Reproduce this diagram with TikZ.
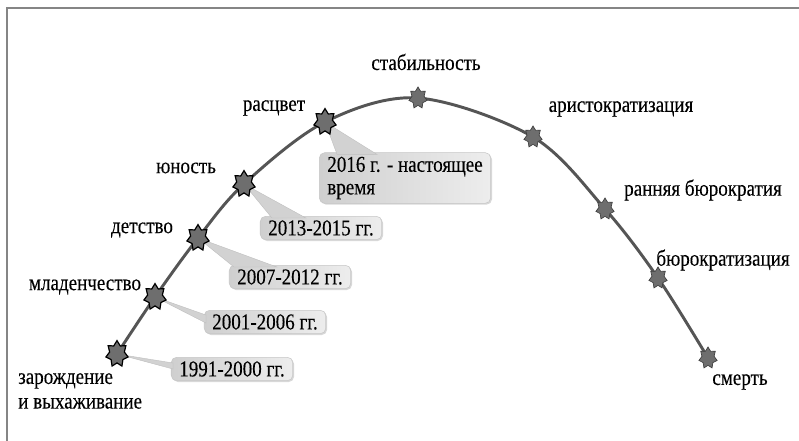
\documentclass[tikz,border=0pt]{standalone}
\usepackage{fontspec}
\setmainfont{Liberation Serif}[FakeStretch=0.84,FakeBold=0.2]
\usetikzlibrary{shapes.geometric,shadows,calc}
\definecolor{curvecol}{HTML}{555555}
\definecolor{framecol}{HTML}{858585}
\definecolor{starfill}{HTML}{6E6E6E}
\definecolor{boxdark}{HTML}{CFCFCF}
\definecolor{boxlight}{HTML}{EDEDED}
\definecolor{tailcol}{HTML}{D2D2D2}
\begin{document}
\begin{tikzpicture}[x=0.75pt,y=-0.75pt,
  lbl/.style={font=\fontsize{17}{18.5}\selectfont, inner sep=0pt, text=black},
  bigstar/.style={star, star points=7, star point ratio=1.5, minimum size=17pt, inner sep=0pt,
     fill=starfill, draw=black, line width=0.9pt, yscale=1.18, transform shape},
  smallstar/.style={star, star points=7, star point ratio=1.5, minimum size=14pt, inner sep=0pt,
     fill=starfill, draw=black!75, line width=0.5pt, yscale=1.18, transform shape},
  curve/.style={draw=curvecol, line width=2.2pt},
  datebox/.style={font=\fontsize{17}{17}\selectfont, rounded corners=4pt, inner xsep=6pt, inner ysep=3pt,
     left color=boxdark, right color=boxlight, draw=gray!45, line width=0.4pt,
     drop shadow={opacity=0.3, shadow xshift=1pt, shadow yshift=-1pt}},
  tail/.style={fill=tailcol, draw=gray!50, line width=0.3pt}]
\clip (0,0) rectangle (799,441);
\fill[white] (0,0) rectangle (799,441);
\draw[framecol, line width=1.5pt] (7,8) rectangle (830,470);

% curve points
\coordinate (c1) at (117,354);
\coordinate (c2) at (155,297);
\coordinate (c3) at (198,238);
\coordinate (c4) at (244,184);
\coordinate (c5) at (325,122);
\coordinate (c6) at (418,98);
\coordinate (c7) at (533,137);
\coordinate (c8) at (605,209);
\coordinate (c9) at (658,278);
\coordinate (c10) at (708,358);
\draw[curve] plot[smooth, tension=0.55] coordinates {(c1) (c2) (c3) (c4) (c5) (c6) (c7) (c8) (c9) (c10)};

% date boxes
\node[datebox] (b1) at (232,369) {1991-2000 гг.};
\node[datebox] (b2) at (265,322) {2001-2006 гг.};
\node[datebox] (b3) at (290,277) {2007-2012 гг.};
\node[datebox] (b4) at (321,228) {2013-2015 гг.};
\node[datebox, align=left, inner ysep=3pt] (b5) at (405,178) {2016 г. - настоящее\\время};

% tails
\fill[tail] (c1) -- ($(b1.west)+(2,-6)$) -- ($(b1.west)+(2,0)$) -- cycle;
\fill[tail] (c2) -- ($(b2.north west)+(2,5)$) -- ($(b2.north west)+(2,13)$) -- cycle;
\fill[tail] (c3) -- ($(b3.north west)+(5,2)$) -- ($(b3.north west)+(48,2)$) -- cycle;
\fill[tail] (c4) -- ($(b4.north west)+(12,2)$) -- ($(b4.north west)+(46,2)$) -- cycle;
\fill[tail] (c5) -- ($(b5.north west)+(18,2)$) -- ($(b5.north west)+(58,2)$) -- cycle;

% stars
\node[bigstar] (s1) at (c1) {};
\node[bigstar] (s2) at (c2) {};
\node[bigstar] (s3) at (c3) {};
\node[bigstar] (s4) at (c4) {};
\node[bigstar] (s5) at (c5) {};
\node[smallstar] (s6) at (c6) {};
\node[smallstar] (s7) at (c7) {};
\node[smallstar] (s8) at (c8) {};
\node[smallstar] (s9) at (c9) {};
\node[smallstar] (s10) at (c10) {};

% labels
\node[lbl, anchor=west, align=left] (l1) at (18,391) {зарождение\\и выхаживание};
\node[lbl] (l2) at (85,287) {младенчество};
\node[lbl] (l3) at (142,230) {детство};
\node[lbl] (l4) at (186,168) {юность};
\node[lbl] (l5) at (274,108) {расцвет};
\node[lbl] (l6) at (426,62) {стабильность};
\node[lbl] (l7) at (621,109) {аристократизация};
\node[lbl] (l8) at (703,190) {ранняя бюрократия};
\node[lbl] (l9) at (723,260) {бюрократизация};
\node[lbl] (l10) at (740,382) {смерть};
\end{tikzpicture}
\end{document}
